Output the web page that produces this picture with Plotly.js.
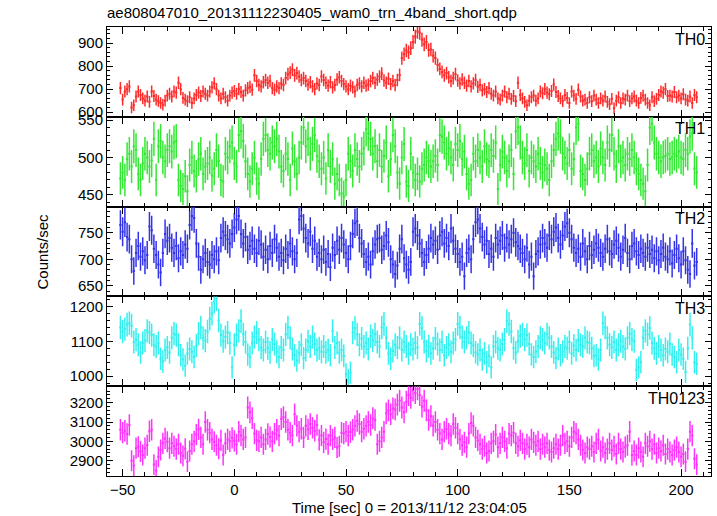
<!DOCTYPE html>
<html>
<head>
<meta charset="utf-8">
<script src="https://cdn.plot.ly/plotly-3.0.1.min.js"></script>
<style>html,body{margin:0;padding:0;background:#fff;}#chart{width:717px;height:516px;}</style>
</head>
<body>
<div id="chart"></div>
<script>
// Time bins: 1 s, first bin centre at t0
var t0 = -51;
var dt = 1;
var panelNames = ["TH0", "TH1", "TH2", "TH3", "TH0123"];

var th0 = [
705,655,690,700,712,620,630,668,690,675,
660,650,668,645,690,670,655,648,640,632,
650,672,680,668,690,685,728,700,662,655,
648,665,640,660,675,685,670,690,680,672,
690,708,725,700,672,660,680,665,650,672,
685,692,680,700,688,672,695,705,710,698,
760,735,718,712,730,740,728,735,705,698,
712,705,725,718,748,765,772,785,760,770,
755,740,748,735,720,730,712,700,725,718,
755,740,728,715,730,708,718,742,752,735,
722,712,700,715,708,690,718,725,712,728,
715,720,735,748,728,742,755,768,738,728,
745,722,735,718,740,762,835,852,868,860,
878,905,928,950,945,915,895,905,870,872,
845,835,805,788,775,760,770,752,735,748,
765,738,725,742,728,715,735,712,725,740,
710,718,695,700,688,705,680,672,690,660,
655,672,690,665,680,658,670,648,728,675,
660,645,630,650,665,672,650,660,690,682,
700,685,678,692,720,688,670,660,648,675,
662,640,690,672,658,698,668,650,655,640,
665,648,672,655,640,660,650,668,645,635,
658,618,650,665,640,660,655,672,648,660,
668,650,640,662,672,655,640,630,665,648,
658,675,690,685,700,670,672,668,688,665,
672,660,678,655,650,668,640,675,665
];

var th1 = [
472,480,470,498,505,488,515,510,478,470,
492,505,500,488,496,525,470,515,522,500,
495,510,515,508,520,522,470,462,458,475,
455,490,500,482,475,498,505,478,488,492,
500,476,485,510,495,470,468,505,500,515,
520,492,488,530,535,522,495,478,468,485,
500,472,465,498,525,530,510,505,520,515,
525,508,488,482,505,498,470,512,495,478,
500,520,540,515,525,505,518,530,502,495,
485,500,472,510,488,498,465,478,470,452,
448,470,505,495,482,510,498,488,505,512,
538,532,525,505,515,495,510,488,502,520,
475,498,530,515,480,465,500,518,468,462,
505,480,470,478,468,485,490,500,495,488,
495,502,490,530,528,520,505,512,500,490,
518,510,522,498,508,478,465,470,505,495,
510,500,488,515,498,495,510,502,520,458,
490,508,500,482,495,510,478,535,540,520,
500,492,510,482,500,495,488,505,492,480,
490,485,470,495,510,525,532,528,505,500,
492,510,485,498,540,545,482,478,470,485,
505,510,495,500,488,512,500,490,520,510,
530,505,488,515,495,500,490,505,498,510,
500,485,478,470,465,455,490,540,545,520,
505,500,495,500,502,505,498,500,505,502,
508,500,498,510,505,528,532,485,480
];

var th2 = [
765,752,770,742,738,700,678,712,725,705,
715,698,708,762,755,720,708,690,675,712,
748,735,740,722,712,725,702,715,708,728,
720,765,782,778,730,705,680,700,712,695,
690,708,700,715,698,740,752,745,738,730,
748,760,775,782,748,730,742,718,725,735,
720,712,735,728,705,718,700,725,712,738,
722,705,712,698,720,708,730,715,700,712,
775,782,758,740,730,752,720,735,705,712,
700,718,695,710,685,722,708,735,718,740,
728,712,700,725,748,768,772,740,730,710,
695,705,690,715,728,738,740,718,725,745,
732,700,690,672,688,720,738,702,690,680,
695,752,758,745,730,712,695,708,720,740,
728,735,718,745,752,730,740,725,758,735,
720,710,695,705,668,712,720,700,738,770,
775,758,742,728,735,710,720,705,740,728,
735,745,722,740,728,738,750,732,725,720,
712,700,722,690,705,668,710,715,728,740,
730,722,745,738,752,760,740,728,745,762,
768,750,738,722,712,720,705,730,715,700,
725,708,718,730,722,712,705,720,738,715,
710,728,735,722,705,718,740,712,700,725,
730,715,708,720,712,705,722,710,718,702,
715,698,710,722,705,700,715,692,708,720,
702,690,715,698,680,672,730,688,695
];

var th3 = [
1140,1128,1135,1148,1152,1145,1098,1105,1090,1068,
1095,1102,1130,1125,1118,1090,1085,1095,1050,1042,
1075,1082,1068,1110,1122,1118,1090,1060,1048,1030,
1065,1078,1070,1055,1088,1122,1140,1110,1102,1128,
1165,1180,1215,1222,1160,1118,1100,1112,1125,1095,
1025,1090,1118,1130,1158,1120,1098,1062,1055,1095,
1112,1125,1105,1082,1075,1098,1080,1068,1105,1092,
1070,1055,1082,1075,1120,1140,1110,1078,1060,1045,
1068,1090,1052,1075,1100,1085,1112,1092,1075,1080,
1070,1085,1068,1075,1060,1130,1082,1095,1068,1075,
1058,1005,988,1010,1125,1138,1120,1090,1108,1085,
1095,1078,1115,1102,1120,1098,1085,1140,1150,1110,
1065,1050,1072,1090,1082,1110,1075,1098,1085,1065,
1090,1078,1095,1082,1150,1138,1098,1072,1085,1065,
1080,1108,1092,1075,1098,1060,1082,1090,1070,1095,
1105,1150,1140,1112,1098,1110,1125,1095,1088,1068,
1062,1075,1048,1065,1040,1058,1025,1085,1098,1080,
1075,1092,1105,1158,1150,1128,1080,1068,1100,1115,
1120,1105,1118,1092,1062,1055,1070,1085,1110,1105,
1095,1120,1110,1085,1068,1052,1078,1060,1070,1085,
1080,1098,1065,1088,1075,1102,1090,1085,1110,1098,
1095,1080,1058,1060,1048,1075,1152,1140,1110,1090,
1082,1098,1075,1090,1100,1085,1078,1110,1122,1105,
1100,1018,1025,1040,1110,1130,1120,1138,1095,1080,
1065,1085,1075,1060,1078,1070,1092,1062,1055,1040,
1075,1062,1050,1012,1080,1148,1110,1040,1035
];

var th0123 = [
3060,3045,3055,3038,3085,2900,2875,2965,2972,2948,
2930,2965,2980,3052,3060,2880,2850,2920,2955,2990,
3015,2998,2965,2990,2975,2960,2985,2940,2925,2962,
2895,2950,2985,3000,3035,3062,3020,2985,3100,3060,
3045,3010,2998,2980,2962,3005,2930,2990,3010,3000,
3018,3002,2985,3050,3030,3010,3020,3175,3150,3120,
3040,3005,3000,3020,2985,3010,3038,3022,3000,3040,
3060,3030,3115,3125,3100,3060,3045,3030,3140,3080,
3050,3065,3020,3080,3062,3090,3070,3055,3085,3008,
3030,2995,3012,2985,3030,3010,3020,2968,2975,3045,
3040,3050,3030,3048,3060,3080,3105,3090,3050,3065,
3080,3100,3085,3120,3110,2985,3000,3020,3050,3145,
3160,3140,3170,3165,3190,3210,3175,3150,3205,3240,
3225,3265,3250,3270,3240,3180,3210,3160,3110,3130,
3080,3100,3060,3040,3010,3050,3065,3040,3030,3090,
3070,3040,3010,2980,2995,2970,3040,3095,3080,3020,
3005,2985,2960,2975,2940,2950,2990,3000,3035,2970,
2990,3020,3000,2965,3040,3030,3045,2990,2975,3005,
2990,2960,2985,2970,3010,2995,2980,3000,2960,2985,
2970,2990,2955,2945,2965,2985,2960,2980,3030,2990,
3000,2975,3020,3050,3040,3010,2980,2955,2940,2970,
2960,2975,2945,2990,3010,2950,2970,2940,2960,2990,
2955,2975,2935,2990,2960,2945,2970,2980,3050,2930,
2950,2930,2965,2945,2920,2990,2975,3000,2960,2985,
2940,2965,2950,2980,2935,2960,2945,2930,2955,2970,
2945,2920,2935,2895,2960,3050,3030,2910,2880
];

var series = [th0, th1, th2, th3, th0123];
var colors = ["#ff2a2a", "#33e833", "#3333e8", "#33f0f0", "#ff33ff"];
var yRanges = [[580, 970], [434.4, 554.4], [629.8, 799.6], [971, 1229], [2821, 3285]];
var yDticks = [100, 50, 50, 100, 100];
var yMinor = [20, 10, 10, 20, 20];

var FONT = "'Liberation Sans', Arial, Helvetica, sans-serif";
var traces = [];
var layout = {
  width: 717, height: 516,
  margin: {l: 107, r: 6, t: 27, b: 40},
  paper_bgcolor: "#fff", plot_bgcolor: "#fff",
  showlegend: false,
  font: {family: FONT, size: 15, color: "#000"},
  title: {text: "ae808047010_20131112230405_wam0_trn_4band_short.qdp",
          x: 107/717, xanchor: "left", xref: "container",
          y: 1 - 13/516, yanchor: "middle", yref: "container",
          font: {family: FONT, size: 15, color: "#000"}},
  annotations: []
};

for (var k = 0; k < 5; k++) {
  var sfx = k === 0 ? "" : String(k + 1);
  traces.push({
    type: "scatter", mode: "markers",
    x0: t0, dx: dt, y: series[k],
    xaxis: "x" + sfx, yaxis: "y" + sfx,
    marker: {size: 1, opacity: 0, color: colors[k]},
    error_y: {type: "sqrt", visible: true, thickness: 1.5, width: 0, color: colors[k]},
    error_x: {type: "constant", value: 0.5, visible: true, thickness: 2, width: 0, color: colors[k]},
    hoverinfo: "skip"
  });
  var dTop = 1 - k * 0.2, dBot = 1 - (k + 1) * 0.2;
  var xa = {
    range: [-57, 213.4], anchor: "y" + sfx,
    showline: true, linecolor: "#000", linewidth: 1, mirror: "allticks",
    ticks: "inside", ticklen: 7, tickwidth: 1, tickcolor: "#000",
    dtick: 50, tick0: 0,
    minor: {dtick: 10, ticklen: 4, tickcolor: "#000", ticks: "inside"},
    showgrid: false, zeroline: false,
    showticklabels: k === 4,
    tickfont: {family: FONT, size: 15, color: "#000"}
  };
  if (k > 0) xa.matches = "x";
  layout["xaxis" + sfx] = xa;
  layout["yaxis" + sfx] = {
    domain: [dBot, dTop], anchor: "x" + sfx,
    range: yRanges[k],
    showline: true, linecolor: "#000", linewidth: 1, mirror: "allticks",
    ticks: "inside", ticklen: 6, tickwidth: 1, tickcolor: "#000",
    dtick: yDticks[k], tick0: 0,
    minor: {dtick: yMinor[k], ticklen: 3, tickcolor: "#000", ticks: "inside"},
    showgrid: false, zeroline: false,
    tickfont: {family: FONT, size: 15, color: "#000"}
  };
  layout.annotations.push({
    text: panelNames[k], xref: "paper", yref: "paper",
    x: 0.993, y: dTop - 0.027, xanchor: "right", yanchor: "middle",
    showarrow: false, font: {family: FONT, size: 16, color: "#000"}
  });
}
layout.annotations.push({
  text: "Counts/sec", xref: "paper", yref: "paper",
  x: (42 - 107) / 604, y: 0.5, xanchor: "center", yanchor: "middle",
  textangle: -90, showarrow: false, font: {family: FONT, size: 15, color: "#000"}
});
layout.annotations.push({
  text: "Time [sec] 0 = 2013/11/12 23:04:05", xref: "paper", yref: "paper",
  x: 0.5, y: (476 - 507) / 449, xanchor: "center", yanchor: "middle",
  showarrow: false, font: {family: FONT, size: 15, color: "#000"}
});

Plotly.newPlot("chart", traces, layout, {staticPlot: true, displayModeBar: false});
</script>
</body>
</html>
